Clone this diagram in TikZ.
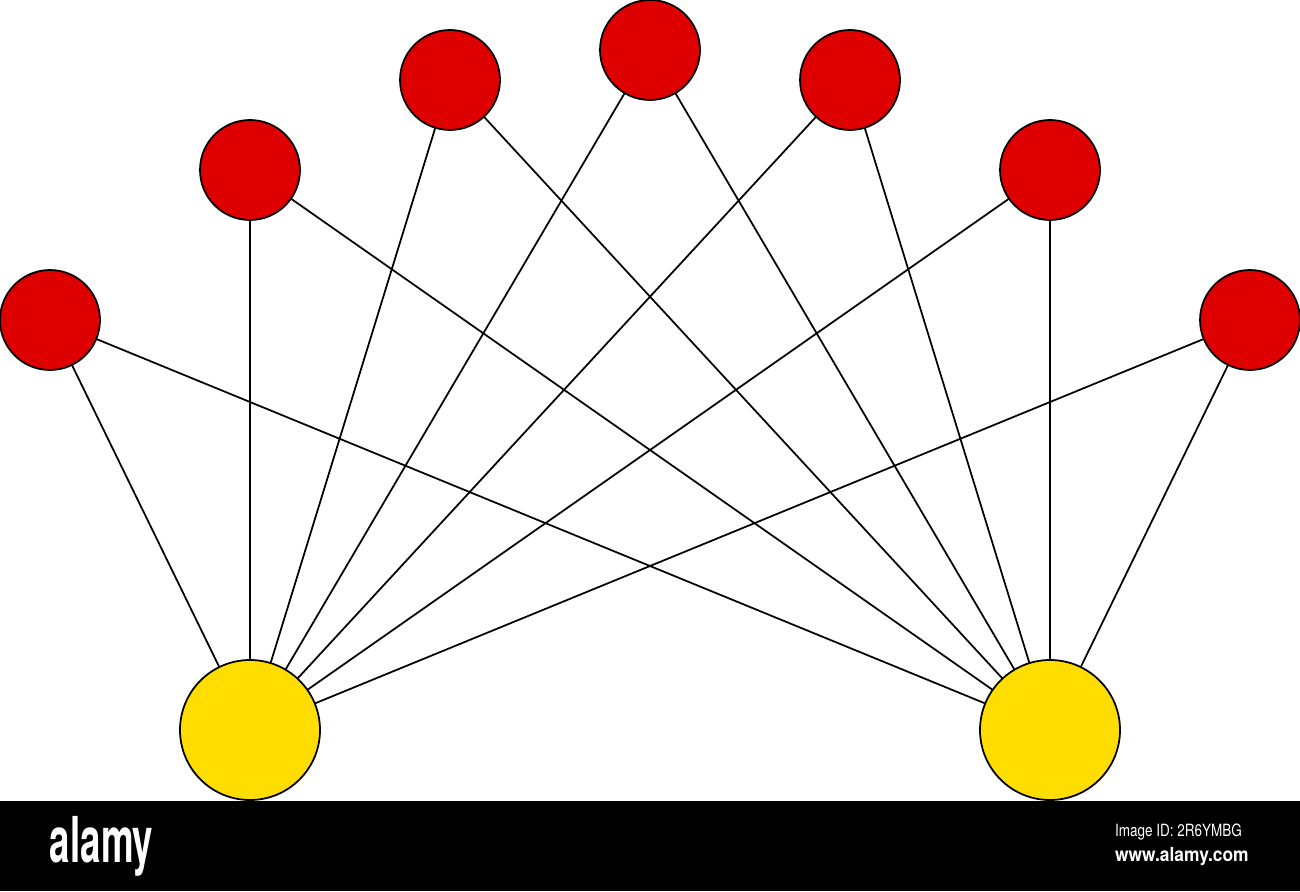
\documentclass[tikz,border=0pt]{standalone}
\usepackage{fontspec}
\setmainfont{TeX Gyre Heros}
\begin{document}
\begin{tikzpicture}[
    inner sep=0pt, outer sep=0pt,%
    edge/.style={line width=0.5pt,black},
    top/.style={circle,draw=black,line width=0.5pt,fill=darkred,minimum size=1cm},
    bottom/.style={circle,draw=black,line width=0.5pt,fill=gold,minimum size=1.4cm},
    mark text/.style={text=white,anchor=west},
]
    % Colors
    \colorlet{darkred}{red!87!black}
    \definecolor{gold}{RGB}{255,221,0}

    \useasboundingbox (0,0) rectangle (13,8.91);

    % Bottom pair
    \node[bottom] (b1) at (2.5,1.61) {};
    \node[bottom] (b2) at (10.5,1.61) {};

    % Top fan
    \node[top] (t1) at (0.5,5.71) {};
    \node[top] (t2) at (2.5,7.21) {};
    \node[top] (t3) at (4.5,8.11) {};
    \node[top] (t4) at (6.5,8.41) {};
    \node[top] (t5) at (8.5,8.11) {};
    \node[top] (t6) at (10.5,7.21) {};
    \node[top] (t7) at (12.5,5.71) {};

    \foreach \i in {1,...,7} {
        \draw[edge] (t\i) -- (b1);
        \draw[edge] (t\i) -- (b2);
    }

    % Bar
    \fill[black] (0,0) rectangle (13,0.9);
    \node[mark text,font=\bfseries\fontsize{18}{18}\selectfont] (logo) at (0.5,0.45) {\scalebox{0.58}[1]{alamy}};
    \node[mark text,font=\fontsize{4.8}{4.8}\selectfont] (imgid) at (11.15,0.59) {\scalebox{0.8}[1]{Image ID: 2R6YMBG}};
    \node[mark text,font=\bfseries\fontsize{5.5}{5.5}\selectfont] (site) at (11.15,0.34) {\scalebox{0.9}[1]{www.alamy.com}};
\end{tikzpicture}
\end{document}
